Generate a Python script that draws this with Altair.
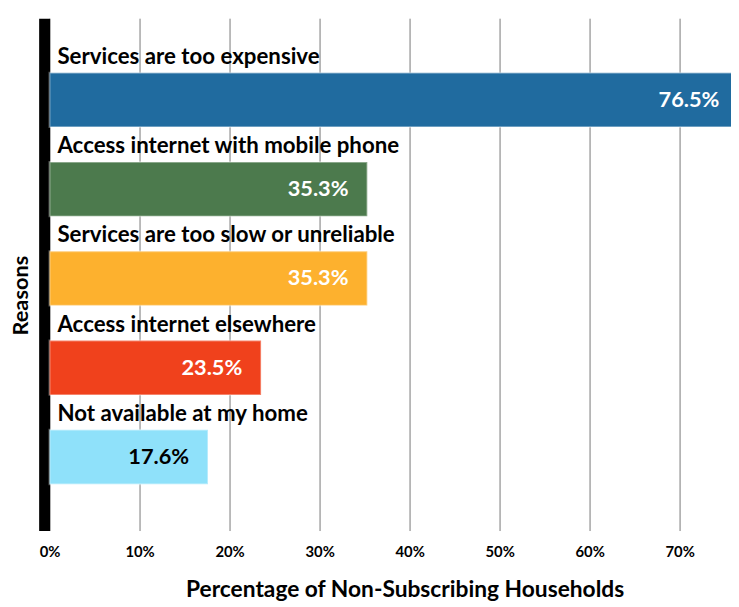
import altair as alt
import pandas as pd

reasons = [
    "Services are too expensive",
    "Access internet with mobile phone",
    "Services are too slow or unreliable",
    "Access internet elsewhere",
    "Not available at my home",
]
percent = [76.5, 35.3, 35.3, 23.5, 17.6]
colors = ["#206B9F", "#4C7A4D", "#FDB12E", "#F0411C", "#8FE1FA"]
x_ticks = [0, 10, 20, 30, 40, 50, 60, 70]

df = pd.DataFrame({"reason": reasons, "pct": percent})
df["label"] = [f"{v:.1f}%" for v in percent]

FONT = "Lato"

y_enc = alt.Y(
    "reason:N",
    sort=reasons,
    scale=alt.Scale(paddingInner=0.39, paddingOuter=0.565, align=0.54),
    axis=alt.Axis(
        title="Reasons",
        labels=False,
        ticks=False,
        grid=False,
        domainColor="black",
        domainWidth=11,
        offset=5.5,
        titleFont=FONT,
        titleFontSize=22,
        titleFontWeight="bold",
        titleColor="black",
        titleAngle=270,
        titleBaseline="alphabetic",
        titleX=-17,
        titleY=280,
    ),
)

x_enc = alt.X(
    "pct:Q",
    scale=alt.Scale(domain=[0, 75.7], nice=False),
    axis=alt.Axis(
        title="Percentage of Non-Subscribing Households",
        titleX=359,
        values=x_ticks,
        labelExpr="datum.value + '%'",
        labelFlush=False,
        domain=False,
        ticks=False,
        grid=True,
        gridColor="#777777",
        gridWidth=1,
        labelFont=FONT,
        labelFontSize=15,
        labelFontWeight="bold",
        labelColor="black",
        labelPadding=14,
        titleFont=FONT,
        titleFontSize=23,
        titleFontWeight="bold",
        titleColor="black",
        titlePadding=20,
    ),
)

bars = alt.Chart(df).mark_bar(
    stroke="white", strokeOpacity=0.35, strokeWidth=2
).encode(
    y=y_enc,
    x=x_enc,
    color=alt.Color("reason:N", scale=alt.Scale(domain=reasons, range=colors), legend=None),
)

cat_text = alt.Chart(df).mark_text(
    align="left", baseline="alphabetic", dy=-36.5, font=FONT, fontSize=22.5, fontWeight="bold", color="black"
).encode(
    y=alt.Y("reason:N", sort=reasons),
    x=alt.value(8),
    text="reason:N",
)

val_text = alt.Chart(df).mark_text(
    align="right", baseline="middle", dx=-19, font=FONT, fontSize=22, fontWeight="bold"
).encode(
    y=alt.Y("reason:N", sort=reasons),
    x="pct:Q",
    text="label:N",
    color=alt.condition(alt.datum.reason == "Not available at my home", alt.value("black"), alt.value("white")),
)

chart = (
    alt.layer(bars, cat_text, val_text)
    .properties(
        width=689,
        height=518,
        autosize=alt.AutoSizeParams(type="none"),
        padding={"left": 42, "top": 7, "right": 0, "bottom": 74},
    )
    .configure_view(stroke=None)
)

chart.save("out.html", embed_options={"renderer": "svg", "actions": False})
